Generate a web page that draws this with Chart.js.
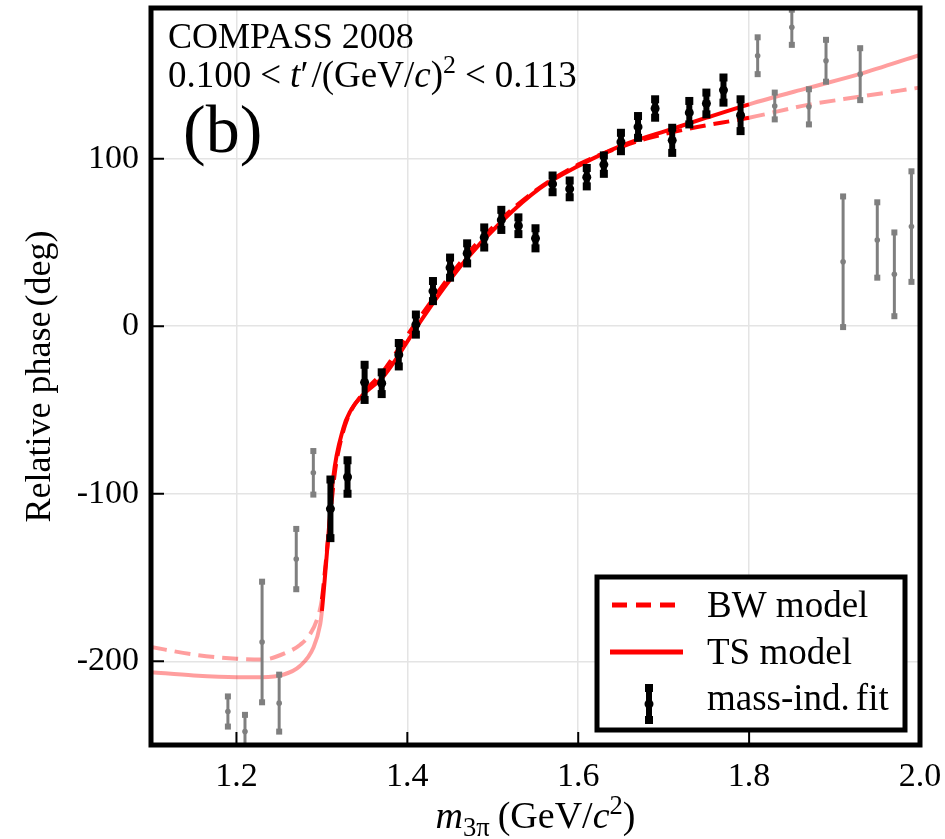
<!DOCTYPE html>
<html>
<head>
<meta charset="utf-8">
<script src="https://cdn.jsdelivr.net/npm/chart.js@4/dist/chart.umd.min.js"></script>
<style>
    body { margin: 0; background: #fff; }
    canvas { display: block; }
</style>
</head>
<body>
<canvas id="phase-chart" width="945" height="839"></canvas>
<script>
// mass-independent fit points inside the fit range
const fitMass = [1.31, 1.33, 1.35, 1.37, 1.39, 1.41, 1.43, 1.45, 1.47, 1.49, 1.51, 1.53, 1.55,
    1.57, 1.59, 1.61, 1.63, 1.65, 1.67, 1.69, 1.71, 1.73, 1.75, 1.77, 1.79];
const fitPhase = [-109, -90, -33.5, -34, -17, 1, 21, 35, 43.5, 53, 63.5, 60, 52.5,
    85, 82, 89, 96.5, 110, 119, 130, 111, 127.5, 133, 141, 126];
const fitError = [17.5, 10, 10.5, 6.5, 7, 6, 6, 6, 6, 6, 6, 5, 6,
    5, 5, 5.5, 5.5, 5.5, 6.5, 5.5, 7.5, 7, 6.5, 7.5, 9.5];

// points outside the fit range
const lowMass = [1.19, 1.21, 1.23, 1.25, 1.27, 1.29];
const lowPhase = [-230, -242, -188.5, -225, -139, -87.5];
const lowError = [9, 10, 36, 17, 18, 13];
const highMass = [1.81, 1.83, 1.85, 1.87, 1.89, 1.91, 1.93, 1.95, 1.97, 1.99];
const highPhase = [161.5, 131.5, 178.5, 131, 158.5, 38.5, 150.5, 51.5, 31, 59.5];
const highError = [11, 8, 10.5, 10.5, 12.5, 39, 15.5, 22.5, 25, 33];

// model curves
const tsMass = [1.10, 1.15, 1.20, 1.23, 1.255, 1.274, 1.29, 1.298, 1.30, 1.3074, 1.3132, 1.325,
    1.333, 1.348, 1.372, 1.411, 1.434, 1.469, 1.51, 1.555, 1.602, 1.65, 1.711, 1.75, 1.80,
    1.867, 1.929, 2.0];
const tsPhase = [-206.5, -208.5, -209.5, -209.5, -208, -203, -192, -178, -170, -126, -90.6, -61,
    -51, -41, -30, -0.5, 16.7, 40, 62.4, 82.3, 96.2, 107.7, 118, 124.5, 132.5,
    142, 150.5, 162];
const bwMass = [1.10, 1.15, 1.20, 1.23, 1.26, 1.275, 1.286, 1.295, 1.30, 1.304, 1.31, 1.315,
    1.32, 1.33, 1.35, 1.37, 1.41, 1.47, 1.51, 1.55, 1.60, 1.65, 1.68, 1.73, 1.80,
    1.867, 1.929, 2.0];
const bwPhase = [-191.5, -196, -198.5, -199, -194.5, -190, -184, -174, -163, -144, -112, -88,
    -73, -55, -39, -28, 2, 43, 64, 81, 96.5, 107, 112, 118, 124.5,
    132, 137, 142.5];

const fitRange = [1.3, 1.8];
const xTicks = [1.2, 1.4, 1.6, 1.8, 2.0];
const yTicks = [-200, -100, 0, 100];

const RED = '#ff0000';
const PALE_RED = 'rgba(255, 0, 0, 0.38)';
const GRAY = '#7f7f7f';
const SERIF = '"Liberation Serif", "Times New Roman", "DejaVu Serif", serif';

const toPoints = (xs, ys) => xs.map((x, i) => ({x: x, y: ys[i]}));

const inFitRange = (ctx) => ctx.p0.parsed.x >= fitRange[0] - 1e-9 && ctx.p1.parsed.x <= fitRange[1] + 1e-9;

// draws text runs with italic / super / subscript pieces
function drawRuns(ctx, x, y, runs, size) {
    ctx.textBaseline = 'alphabetic';
    ctx.textAlign = 'left';
    runs.forEach(run => {
        const s = size * (run.scale || 1);
        ctx.font = (run.italic ? 'italic ' : '') + s + 'px ' + SERIF;
        ctx.fillText(run.text, x, y - (run.rise || 0) * size);
        x += ctx.measureText(run.text).width + (run.after || 0);
    });
    return x;
}

function runsWidth(ctx, runs, size) {
    let w = 0;
    runs.forEach(run => {
        const s = size * (run.scale || 1);
        ctx.font = (run.italic ? 'italic ' : '') + s + 'px ' + SERIF;
        w += ctx.measureText(run.text).width + (run.after || 0);
    });
    return w;
}

const errorBars = {
    id: 'errorBars',
    beforeDatasetDraw(chart, args) {
        const ds = chart.data.datasets[args.index];
        if (!ds.errors) return;
        const {ctx, chartArea, scales: {x, y}} = chart;
        ctx.save();
        ctx.beginPath();
        ctx.rect(chartArea.left, chartArea.top, chartArea.width, chartArea.height);
        ctx.clip();
        ctx.strokeStyle = ds.barColor;
        ctx.fillStyle = ds.barColor;
        ctx.lineWidth = ds.barWidth;
        ds.data.forEach((p, i) => {
            const px = x.getPixelForValue(p.x);
            const top = y.getPixelForValue(p.y + ds.errors[i]);
            const bottom = y.getPixelForValue(p.y - ds.errors[i]);
            ctx.beginPath();
            ctx.moveTo(px, top);
            ctx.lineTo(px, bottom);
            ctx.stroke();
            const c = ds.capSize;
            ctx.fillRect(px - c / 2, top - c / 2, c, c);
            ctx.fillRect(px - c / 2, bottom - c / 2, c, c);
        });
        ctx.restore();
    }
};

const decorations = {
    id: 'decorations',
    afterDraw(chart) {
        const {ctx, chartArea: area, scales: {x, y}} = chart;
        ctx.save();
        ctx.fillStyle = '#000';
        ctx.strokeStyle = '#000';

        // inward tick marks
        ctx.lineWidth = 2;
        yTicks.forEach(v => {
            const py = y.getPixelForValue(v);
            ctx.beginPath();
            ctx.moveTo(area.left, py);
            ctx.lineTo(area.left + 13, py);
            ctx.stroke();
        });
        xTicks.forEach(v => {
            const px = x.getPixelForValue(v);
            ctx.beginPath();
            ctx.moveTo(px, area.bottom);
            ctx.lineTo(px, area.bottom - 13);
            ctx.stroke();
        });

        // frame
        ctx.lineWidth = 5;
        ctx.strokeRect(area.left, area.top, area.width, area.height);

        // labels in the top-left corner
        drawRuns(ctx, area.left + 17, area.top + 40, [{text: 'COMPASS 2008'}], 36);
        drawRuns(ctx, area.left + 17, area.top + 79, [
            {text: '0.100', after: 9}, {text: '<', after: 9}, {text: 't', italic: true},
            {text: '\u2032', after: 3}, {text: '/(GeV/'}, {text: 'c', italic: true}, {text: ')'},
            {text: '2', scale: 0.7, rise: 0.38, after: 9}, {text: '<', after: 9}, {text: '0.113'}
        ], 37);
        drawRuns(ctx, area.left + 32, area.top + 144, [{text: '(b)'}], 68);

        // legend box
        const lx = area.right - 323, ly = area.bottom - 168, lw = 308, lh = 153;
        ctx.fillStyle = '#fff';
        ctx.fillRect(lx, ly, lw, lh);
        ctx.lineWidth = 5;
        ctx.strokeRect(lx, ly, lw, lh);

        ctx.lineCap = 'butt';
        ctx.strokeStyle = RED;
        ctx.lineWidth = 5;
        ctx.setLineDash([15, 9]);
        ctx.beginPath();
        ctx.moveTo(lx + 15, ly + 28);
        ctx.lineTo(lx + 83, ly + 28);
        ctx.stroke();
        ctx.setLineDash([]);
        ctx.beginPath();
        ctx.moveTo(lx + 13, ly + 75);
        ctx.lineTo(lx + 86, ly + 75);
        ctx.stroke();

        const mx = lx + 52, my = ly + 127;
        ctx.strokeStyle = '#000';
        ctx.fillStyle = '#000';
        ctx.lineWidth = 6;
        ctx.beginPath();
        ctx.moveTo(mx, my - 16);
        ctx.lineTo(mx, my + 16);
        ctx.stroke();
        ctx.fillRect(mx - 4, my - 20, 8, 8);
        ctx.fillRect(mx - 4, my + 12, 8, 8);
        ctx.beginPath();
        ctx.arc(mx, my, 4.5, 0, Math.PI * 2);
        ctx.fill();

        drawRuns(ctx, lx + 110, ly + 40, [{text: 'BW model'}], 37);
        drawRuns(ctx, lx + 110, ly + 87, [{text: 'TS model'}], 37);
        drawRuns(ctx, lx + 110, ly + 133, [{text: 'mass-ind.', after: 6}, {text: 'fit'}], 37);

        // axis titles
        const xRuns = [
            {text: 'm', italic: true}, {text: '3\u03c0', scale: 0.7, rise: -0.22, after: 8},
            {text: '(GeV/'}, {text: 'c', italic: true}, {text: '2', scale: 0.7, rise: 0.38}, {text: ')'}
        ];
        const xw = runsWidth(ctx, xRuns, 38);
        drawRuns(ctx, (area.left + area.right) / 2 - xw / 2, area.bottom + 83, xRuns, 38);

        ctx.translate(50, (area.top + area.bottom) / 2);
        ctx.rotate(-Math.PI / 2);
        const yRuns = [{text: 'Relative phase', after: 5}, {text: '(deg)'}];
        const yw = runsWidth(ctx, yRuns, 36);
        drawRuns(ctx, -yw / 2, 0, yRuns, 36);
        ctx.restore();
    }
};

new Chart(document.getElementById('phase-chart'), {
    type: 'scatter',
    data: {
        datasets: [
            {
                label: 'BW model',
                data: toPoints(bwMass, bwPhase),
                showLine: true,
                cubicInterpolationMode: 'monotone',
                borderWidth: 4,
                borderDash: [16, 8],
                pointRadius: 0,
                borderColor: RED,
                segment: {borderColor: ctx => inFitRange(ctx) ? RED : PALE_RED},
                order: 4
            },
            {
                label: 'TS model',
                data: toPoints(tsMass, tsPhase),
                showLine: true,
                cubicInterpolationMode: 'monotone',
                borderWidth: 4,
                pointRadius: 0,
                borderColor: RED,
                segment: {borderColor: ctx => inFitRange(ctx) ? RED : PALE_RED},
                order: 3
            },
            {
                label: 'low',
                data: toPoints(lowMass, lowPhase),
                errors: lowError,
                barColor: GRAY, barWidth: 3, capSize: 6,
                pointRadius: 2.8,
                backgroundColor: GRAY,
                borderWidth: 0,
                order: 2
            },
            {
                label: 'high',
                data: toPoints(highMass, highPhase),
                errors: highError,
                barColor: GRAY, barWidth: 3, capSize: 6,
                pointRadius: 2.8,
                backgroundColor: GRAY,
                borderWidth: 0,
                order: 2
            },
            {
                label: 'mass-ind. fit',
                data: toPoints(fitMass, fitPhase),
                errors: fitError,
                barColor: '#000', barWidth: 6, capSize: 8,
                pointRadius: 4.5,
                backgroundColor: '#000',
                borderWidth: 0,
                order: 1
            }
        ]
    },
    options: {
        responsive: false,
        animation: false,
        layout: {padding: {top: 8, right: 25, left: 0, bottom: 0}},
        plugins: {
            legend: {display: false},
            tooltip: {enabled: false}
        },
        scales: {
            x: {
                type: 'linear',
                min: 1.1,
                max: 2.0,
                afterBuildTicks: scale => { scale.ticks = xTicks.map(v => ({value: v})); },
                afterFit: scale => {
                    scale.height = 94;
                    scale.paddingLeft = 0;
                    scale.paddingRight = 0;
                },
                grid: {color: '#e4e4e4', lineWidth: 1.5, drawTicks: false},
                border: {display: false},
                ticks: {
                    padding: 12,
                    color: '#000',
                    font: {family: SERIF, size: 34},
                    callback: v => v.toFixed(1)
                }
            },
            y: {
                type: 'linear',
                min: -250,
                max: 190,
                afterBuildTicks: scale => { scale.ticks = yTicks.map(v => ({value: v})); },
                afterFit: scale => {
                    scale.width = 151;
                    scale.paddingTop = 0;
                    scale.paddingBottom = 0;
                },
                grid: {color: '#e4e4e4', lineWidth: 1.5, drawTicks: false},
                border: {display: false},
                ticks: {
                    padding: 12,
                    color: '#000',
                    font: {family: SERIF, size: 34},
                    callback: v => String(v)
                }
            }
        }
    },
    plugins: [errorBars, decorations]
});
</script>
</body>
</html>
